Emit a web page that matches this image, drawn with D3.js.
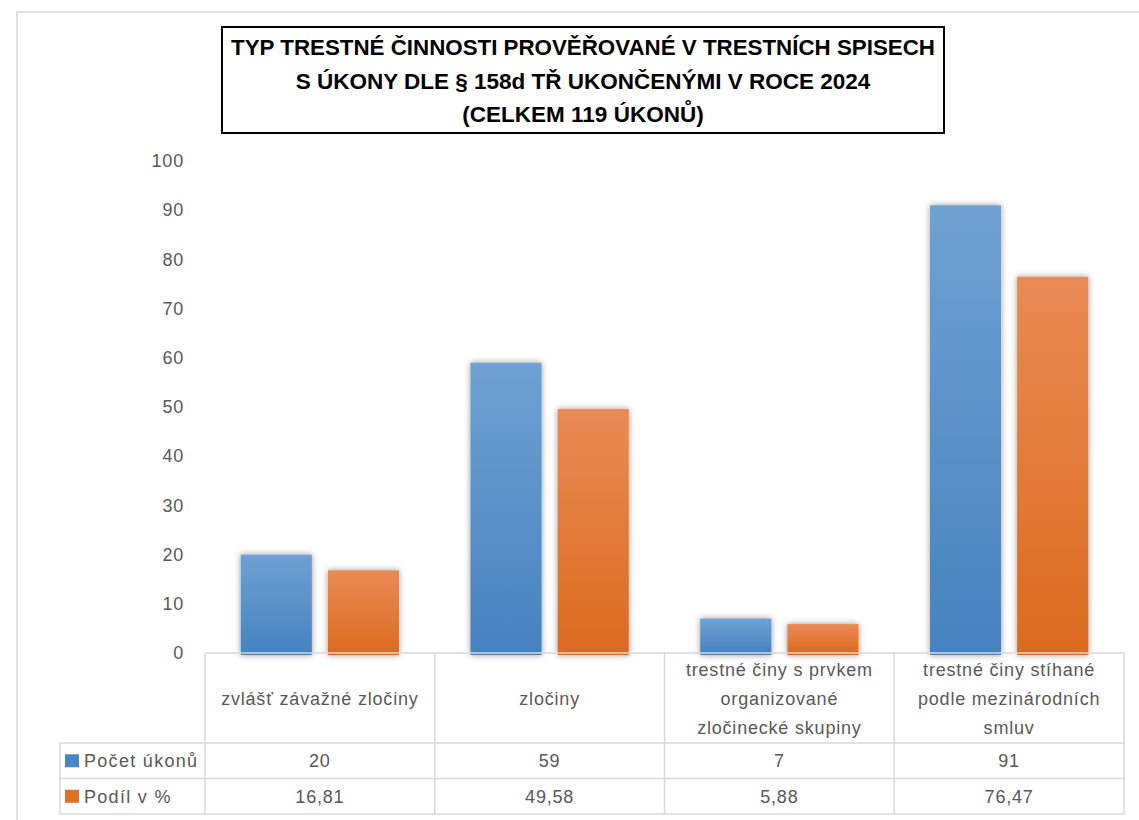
<!DOCTYPE html>
<html>
<head>
<meta charset="utf-8">
<script src="https://cdn.jsdelivr.net/npm/d3@7"></script>
<style>
  body { margin: 0; background: #fff; }
  svg text { font-family: "Liberation Sans", Arial, sans-serif; }
</style>
</head>
<body>
<svg id="chart" width="1139" height="820"></svg>
<script>
// chart data
const titleLines = [
    "TYP TRESTNÉ ČINNOSTI PROVĚŘOVANÉ V TRESTNÍCH SPISECH",
    "S ÚKONY DLE § 158d TŘ UKONČENÝMI V ROCE 2024",
    "(CELKEM 119 ÚKONŮ)"
];
const categories = [
    ["zvlášť závažné zločiny"],
    ["zločiny"],
    ["trestné činy s prvkem", "organizované", "zločinecké skupiny"],
    ["trestné činy stíhané", "podle mezinárodních", "smluv"]
];
const seriesNames = ["Počet úkonů", "Podíl v %"];
const countValues = [20, 59, 7, 91];
const shareValues = [16.81, 49.58, 5.88, 76.47];
const shareLabels = ["16,81", "49,58", "5,88", "76,47"];
const yTicks = [0, 10, 20, 30, 40, 50, 60, 70, 80, 90, 100];

const series = [
    {name: seriesNames[0], values: countValues, labels: countValues.map(String), top: "#6fa1d2", bottom: "#4682bf", key: "#4a86c4"},
    {name: seriesNames[1], values: shareValues, labels: shareLabels, top: "#e98b55", bottom: "#dc6a1e", key: "#e07026"}
];

let svg = d3.select("#chart");
let defs = svg.append("defs");

// outer chart frame
svg.append("rect")
    .attr("x", 17).attr("y", 12)
    .attr("width", 1140).attr("height", 830)
    .attr("fill", "none")
    .attr("stroke", "#d9d9d9")
    .attr("stroke-width", 1.5);

// title box
svg.append("rect")
    .attr("x", 222).attr("y", 27)
    .attr("width", 722).attr("height", 106)
    .attr("fill", "#fff")
    .attr("stroke", "#000")
    .attr("stroke-width", 2);

let titleWidths = [704, 591, 251];
svg.append("g").selectAll("text")
    .data(titleLines).enter().append("text")
    .attr("x", 583)
    .attr("y", (d, i) => 55 + i * 33.5)
    .attr("text-anchor", "middle")
    .attr("font-weight", "bold")
    .attr("font-size", 21)
    .attr("fill", "#000")
    .text(d => d)
    .each(function(d, i) {
        // fit the wide Calibri-like lines to the reference width
        let w = this.getComputedTextLength();
        let fs = 21 * titleWidths[i] / w;
        d3.select(this).attr("font-size", Math.min(fs, 22.5));
    });

// scales
let tableLeft = 205, tableRight = 1124;
let x0 = d3.scaleBand()
    .domain(d3.range(categories.length))
    .range([tableLeft, tableRight]);
let x1 = d3.scaleBand()
    .domain(d3.range(series.length))
    .range([0, x0.bandwidth()])
    .paddingInner(0.184)
    .paddingOuter(0.41);
let y = d3.scaleLinear().domain([0, 100]).range([653, 161]);

// y axis labels
let yAxis = d3.axisLeft(y).tickValues(yTicks).tickSize(0).tickPadding(0);
let yg = svg.append("g")
    .attr("transform", "translate(184,0)")
    .call(yAxis);
yg.select(".domain").remove();
yg.selectAll("text")
    .attr("font-size", 18)
    .attr("letter-spacing", 0.8)
    .attr("fill", "#595959")
    .attr("font-family", "Liberation Sans, Arial, sans-serif");

// gradients and shadow
series.forEach((s, i) => {
    let g = defs.append("linearGradient")
        .attr("id", "grad" + i)
        .attr("x1", 0).attr("y1", 0).attr("x2", 0).attr("y2", 1);
    g.append("stop").attr("offset", "0%").attr("stop-color", s.top);
    g.append("stop").attr("offset", "100%").attr("stop-color", s.bottom);
});
let shadow = defs.append("filter").attr("id", "shadow")
    .attr("x", "-20%").attr("y", "-20%").attr("width", "140%").attr("height", "140%");
shadow.append("feDropShadow")
    .attr("dx", 0).attr("dy", 0)
    .attr("stdDeviation", 3)
    .attr("flood-color", "#000")
    .attr("flood-opacity", 0.4);

// bars
svg.append("g").selectAll("g")
    .data(categories.map((c, ci) => ci)).enter().append("g")
    .attr("transform", ci => "translate(" + x0(ci) + ",0)")
    .selectAll("rect")
    .data(ci => series.map((s, si) => ({si: si, v: s.values[ci]})))
    .enter().append("rect")
    .attr("x", d => x1(d.si))
    .attr("y", d => y(d.v))
    .attr("width", x1.bandwidth())
    .attr("height", d => y(0) - y(d.v) + 2)
    .attr("fill", d => "url(#grad" + d.si + ")")
    .attr("filter", "url(#shadow)");

// data table
let rowTop = 653, headerBottom = 743, rowH = 35.5;
let legendLeft = 60;
let grid = svg.append("g")
    .attr("stroke", "#d9d9d9")
    .attr("stroke-width", 1.5);
// horizontal lines
grid.append("line").attr("x1", tableLeft).attr("x2", tableRight).attr("y1", rowTop).attr("y2", rowTop);
[0, 1, 2].forEach(r => {
    grid.append("line")
        .attr("x1", legendLeft).attr("x2", tableRight)
        .attr("y1", headerBottom + r * rowH).attr("y2", headerBottom + r * rowH);
});
// vertical lines
grid.append("line").attr("x1", legendLeft).attr("x2", legendLeft)
    .attr("y1", headerBottom).attr("y2", headerBottom + 2 * rowH);
d3.range(categories.length + 1).forEach(i => {
    let xx = i < categories.length ? x0(i) : tableRight;
    grid.append("line").attr("x1", xx).attr("x2", xx)
        .attr("y1", rowTop).attr("y2", headerBottom + 2 * rowH);
});

// category labels
svg.append("g").selectAll("text")
    .data(categories).enter().append("text")
    .attr("x", (d, i) => x0(i) + x0.bandwidth() / 2)
    .attr("text-anchor", "middle")
    .attr("font-size", 18)
    .attr("letter-spacing", 0.8)
    .attr("fill", "#595959")
    .each(function(lines) {
        let t = d3.select(this);
        let start = 698 - (lines.length - 1) * 29 / 2;
        lines.forEach((l, k) => {
            t.append("tspan")
                .attr("x", t.attr("x"))
                .attr("y", start + k * 29 + 7)
                .text(l);
        });
    });

// value rows with legend keys
series.forEach((s, si) => {
    let cy = headerBottom + si * rowH + rowH / 2;
    svg.append("rect")
        .attr("x", 65).attr("y", cy - 6.5)
        .attr("width", 14).attr("height", 13)
        .attr("fill", s.key);
    svg.append("text")
        .attr("x", 84).attr("y", cy + 6.5)
        .attr("font-size", 18)
        .attr("letter-spacing", 1.3)
        .attr("fill", "#595959")
        .text(s.name);
    svg.append("g").selectAll("text")
        .data(s.labels).enter().append("text")
        .attr("x", (d, i) => x0(i) + x0.bandwidth() / 2)
        .attr("y", cy + 6.5)
        .attr("text-anchor", "middle")
        .attr("font-size", 18)
        .attr("letter-spacing", 0.8)
        .attr("fill", "#595959")
        .text(d => d);
});
</script>
</body>
</html>
